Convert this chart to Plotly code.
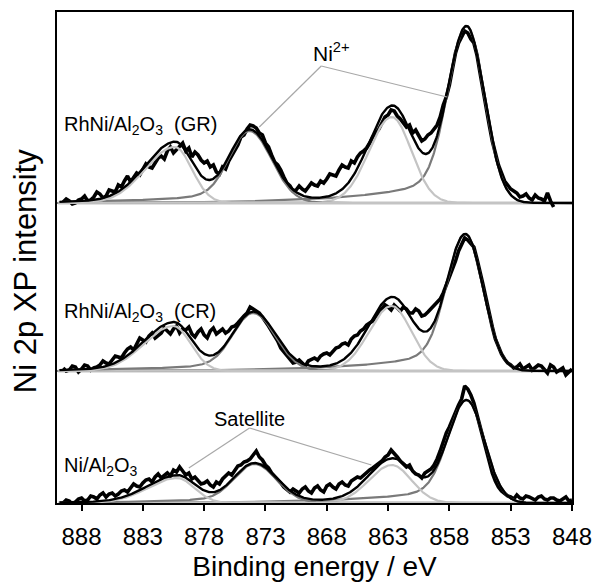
import numpy as np
import plotly.graph_objects as go

# ---------------- data ----------------
X_TICKS = [888, 883, 878, 873, 868, 863, 858, 853, 848]
X_RANGE = [890, 848]

PANEL_LABELS = ["RhNi/Al<sub>2</sub>O<sub>3</sub>\u00a0\u00a0(GR)",
                "RhNi/Al<sub>2</sub>O<sub>3</sub>\u00a0\u00a0(CR)",
                "Ni/Al<sub>2</sub>O<sub>3</sub>"]
PANEL_OFFSET = [300, 132, 0]   # vertical stacking offsets (arb. units)

DATA_START = 889.5   # eV, first measured point
DATA_STEP = 0.25     # eV

GR_DATA = [1, 4, 2, -1, 0, 3, 4, 7, 2, 3, 6, 11, 9, 5, 7, 13, 12, 11, 18, 16,
           22, 27, 21, 25, 30, 28, 34, 39, 36, 35, 40, 45, 47, 44, 52, 56, 50, 53, 57, 60,
           52, 55, 46, 51, 48, 43, 40, 42, 36, 38, 31, 29, 36, 34, 42, 47, 52, 58, 66, 68,
           74, 78, 77, 75, 70, 68, 60, 56, 48, 41, 38, 33, 26, 20, 17, 12, 13, 17, 14, 12,
           16, 20, 18, 17, 22, 20, 24, 29, 28, 27, 33, 38, 36, 35, 42, 40, 46, 50, 52, 55,
           60, 66, 70, 74, 80, 86, 88, 93, 92, 87, 84, 80, 76, 78, 70, 73, 67, 62, 64, 68,
           70, 74, 78, 86, 98, 106, 118, 134, 150, 160, 166, 172, 170, 164, 160, 148, 130, 112, 92, 78,
           62, 48, 38, 30, 22, 18, 14, 12, 10, 6, 7, 9, 5, 3, 8, 5, 4, 2, 10, 2,
           -4]
CR_DATA = [3, 0, 1, 5, 4, -1, 2, 6, 5, 1, 3, 4, 6, 10, 8, 7, 11, 15, 14, 13,
           18, 22, 24, 21, 27, 33, 31, 29, 35, 38, 33, 36, 38, 43, 40, 37, 42, 45, 38, 42,
           41, 44, 37, 34, 39, 42, 36, 33, 40, 43, 37, 40, 42, 38, 40, 44, 45, 48, 52, 55,
           58, 64, 62, 60, 58, 54, 50, 45, 40, 35, 30, 23, 19, 15, 12, 8, 9, 11, 8, 5,
           10, 12, 13, 11, 15, 17, 18, 16, 20, 23, 24, 27, 28, 26, 32, 35, 36, 40, 42, 46,
           48, 50, 55, 59, 62, 66, 64, 61, 66, 63, 60, 64, 62, 58, 58, 62, 60, 55, 56, 59,
           62, 65, 68, 72, 78, 86, 92, 102, 110, 120, 126, 133, 131, 128, 124, 112, 100, 86, 72, 57,
           44, 32, 24, 17, 12, 8, 6, 3, 4, 7, 2, 4, 6, 1, 3, 6, 5, 2, -2, 6,
           4, -1, 1, 3, -4, -1, 2]
NI_DATA = [0, 3, 2, -1, 1, 4, 5, 2, 3, 7, 6, 4, 8, 10, 6, 9, 10, 7, 9, 12,
           13, 11, 15, 19, 17, 16, 20, 23, 24, 21, 26, 29, 25, 28, 30, 27, 33, 31, 36, 32,
           28, 30, 24, 26, 22, 19, 20, 22, 18, 16, 21, 19, 24, 27, 30, 28, 33, 37, 38, 41,
           42, 44, 48, 52, 46, 43, 38, 35, 30, 27, 24, 20, 16, 14, 11, 14, 12, 10, 14, 16,
           12, 10, 15, 17, 13, 11, 17, 19, 16, 14, 19, 21, 18, 17, 22, 24, 26, 25, 28, 31,
           33, 35, 37, 40, 42, 46, 48, 53, 50, 46, 42, 39, 36, 38, 32, 29, 28, 25, 30, 32,
           34, 38, 44, 52, 62, 70, 76, 84, 92, 98, 104, 117, 114, 108, 100, 88, 76, 64, 52, 40,
           30, 22, 16, 12, 9, 7, 6, 4, 8, 5, 4, 7, 6, 4, 3, 6, 7, 4, 3, 5,
           5, 3, 2, 4, 6, 2, 3]

# fitted components: Ni 2p3/2, its satellite, Ni 2p1/2, its satellite
PEAK_IS_SAT = [False, True, False, True]
PEAK_SIGMA_HI = [1.45, 1.85, 1.55, 2.4]   # high binding-energy side (eV)
PEAK_SIGMA_LO = [1.45, 1.6, 1.8, 1.4]     # low binding-energy side (eV)
PEAK_TAIL = [0.18, 0.0, 0.18, 0.0]
TAIL_LEN = 6.0

GR_CENTER = [856.6, 862.7, 874.3, 880.4]
GR_HEIGHT = [177, 86, 72, 56]
CR_CENTER = [856.7, 862.7, 874.0, 880.5]
CR_HEIGHT = [137, 65, 58, 45]
NI_CENTER = [856.6, 862.7, 873.9, 880.2]
NI_HEIGHT = [103, 38, 39, 25]

PANEL_DATA = [GR_DATA, CR_DATA, NI_DATA]
PANEL_CENTER = [GR_CENTER, CR_CENTER, NI_CENTER]
PANEL_HEIGHT = [GR_HEIGHT, CR_HEIGHT, NI_HEIGHT]

# ---------------- helpers ----------------
E_FIT = np.arange(889.8, 847.99, -0.05)


def component(e, c, h, s_hi, s_lo, tail):
    d = e - c
    sig = np.where(d > 0, s_hi, s_lo)
    g = np.exp(-d ** 2 / (2 * sig ** 2))
    t = np.where(d > 0, tail * np.exp(-np.clip(d, 0, None) / TAIL_LEN)
                 * (1 - np.exp(-(d / 2.0) ** 2)), 0.0)
    return h * (g + t)


FONT = "Liberation Sans, Arial, sans-serif"
MAIN_COL = "#7a7a7a"
SAT_COL = "#c4c4c4"

fig = go.Figure()

for p in range(3):
    off = PANEL_OFFSET[p]
    fig.add_trace(go.Scatter(x=[889.9, 848.0], y=[off, off], mode="lines",
                             line=dict(color=SAT_COL, width=3), showlegend=False,
                             hoverinfo="skip"))
    vals = PANEL_DATA[p]
    e_data = [DATA_START - DATA_STEP * i for i in range(len(vals))]
    fig.add_trace(go.Scatter(x=e_data, y=[v + off for v in vals], mode="lines",
                             line=dict(color="black", width=3.6), showlegend=False))
    total = np.zeros_like(E_FIT)
    comps = []
    for k in range(4):
        y = component(E_FIT, PANEL_CENTER[p][k], PANEL_HEIGHT[p][k],
                      PEAK_SIGMA_HI[k], PEAK_SIGMA_LO[k], PEAK_TAIL[k])
        total += y
        comps.append(y)
    for k in range(4):
        fig.add_trace(go.Scatter(x=E_FIT, y=comps[k] + off, mode="lines",
                                 line=dict(color=SAT_COL if PEAK_IS_SAT[k] else MAIN_COL,
                                           width=2.2),
                                 showlegend=False))
    fig.add_trace(go.Scatter(x=E_FIT, y=total + off, mode="lines",
                             line=dict(color="black", width=2.4), showlegend=False))

for off in PANEL_OFFSET[:2]:
    fig.add_shape(type="line", xref="paper", x0=0, x1=1, yref="y", y0=off, y1=off,
                  line=dict(color="black", width=1.2), layer="below")

LABEL_Y = [378, 191, 37]
for p in range(3):
    fig.add_annotation(x=889.6, y=LABEL_Y[p], text=PANEL_LABELS[p], showarrow=False,
                       xanchor="left", yanchor="middle",
                       font=dict(family=FONT, size=20, color="black"))

GUIDE = "#a8a8a8"
fig.add_annotation(x=867.6, y=451, text="Ni<sup>2+</sup>", showarrow=False,
                   font=dict(family=FONT, size=21, color="black"))
for (x1, y1) in [(873.5, 376), (858.2, 406)]:
    fig.add_shape(type="line", x0=868.45, y0=437, x1=x1, y1=y1,
                  line=dict(color=GUIDE, width=1.2))
fig.add_annotation(x=874.3, y=84, text="Satellite", showarrow=False,
                   font=dict(family=FONT, size=20, color="black"))
for (x1, y1) in [(879.25, 35), (864.36, 38)]:
    fig.add_shape(type="line", x0=874.3, y0=75, x1=x1, y1=y1,
                  line=dict(color=GUIDE, width=1.2))

# y-axis title as rotated annotation (centred like the reference)
fig.add_annotation(xref="paper", yref="paper", x=0, y=0.472, xshift=-32,
                   text="Ni 2p XP intensity", textangle=-90, showarrow=False,
                   xanchor="center", yanchor="middle",
                   font=dict(family=FONT, size=31, color="black"))

fig.update_layout(
    width=597, height=585,
    margin=dict(l=57, r=25, t=12, b=82, autoexpand=False),
    plot_bgcolor="white", paper_bgcolor="white",
    font=dict(family=FONT, color="black"),
    xaxis=dict(range=X_RANGE, tickvals=X_TICKS, ticktext=[str(t) for t in X_TICKS],
               ticks="outside", ticklen=6, tickwidth=2, tickcolor="black",
               ticklabelstandoff=5, automargin=False,
               showline=True, linecolor="black", linewidth=2, mirror=True,
               showgrid=False, zeroline=False,
               tickfont=dict(family=FONT, size=24, color="black"),
               title=dict(text="Binding energy / eV", standoff=8,
                          font=dict(family=FONT, size=28, color="black"))),
    yaxis=dict(range=[0, 491], showticklabels=False, ticks="", automargin=False,
               showline=True, linecolor="black", linewidth=2, mirror=True,
               showgrid=False, zeroline=False),
)

fig.write_html("out.html")
